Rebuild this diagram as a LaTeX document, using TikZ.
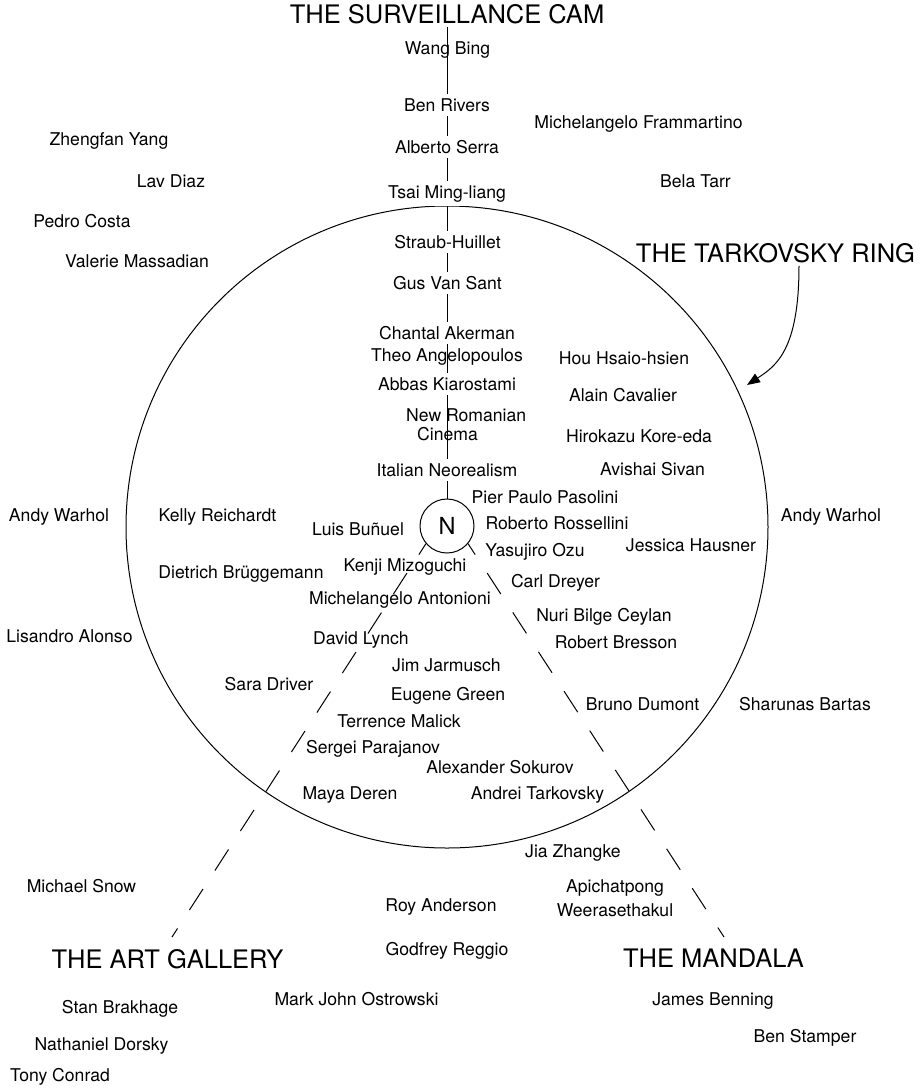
\documentclass[tikz,border=0pt]{standalone}
\usepackage{fontspec}
\setmainfont{TeX Gyre Heros}
\usetikzlibrary{arrows.meta,backgrounds}
\begin{document}
\begin{tikzpicture}[x=1pt,y=1pt,
  lbl/.style={anchor=base,yshift=-6.3pt,inner sep=2pt,font=\fontsize{17.6pt}{21pt}\selectfont},
  wlbl/.style={lbl,fill=white,inner sep=4pt},
  ttl/.style={anchor=base,yshift=-9.2pt,inner sep=3pt,font=\fontsize{25.5pt}{30pt}\selectfont},
  ln/.style={line width=1pt,black},
  dln/.style={ln,dash pattern=on 25pt off 22pt,dash phase=12pt}]
\useasboundingbox (0,0) rectangle (924,-1088);
% ring and centre
\node[circle,draw,line width=1pt,minimum size=642pt,inner sep=0pt] (ring) at (447,-527) {};
\node[circle,draw,line width=1pt,fill=white,minimum size=54pt,inner sep=0pt,font=\fontsize{23.5pt}{28pt}\selectfont] (N) at (447,-526) {N};
% titles
\node[ttl] (cam) at (447,-14) {THE SURVEILLANCE CAM};
\node[ttl] (tark) at (775.5,-253) {THE TARKOVSKY RING};
\node[ttl] (artgallery) at (167.5,-959) {THE ART GALLERY};
\node[ttl] (mandala) at (713.5,-958) {THE MANDALA};
% vertical axis labels
\node[lbl] (wang) at (447.5,-48) {Wang Bing};
\node[wlbl] (benrivers) at (447,-105) {Ben Rivers};
\node[wlbl] (serra) at (447,-147) {Alberto Serra};
\node[wlbl] (tsai) at (447,-192) {Tsai Ming-liang};
\node[wlbl] (straub) at (447.5,-242) {Straub-Huillet};
\node[wlbl] (gus) at (447.5,-283) {Gus Van Sant};
\node[wlbl] (chantal) at (447,-333) {Chantal Akerman};
\node[lbl] (theo) at (447,-355) {Theo Angelopoulos};
\node[wlbl] (abbas) at (447,-384) {Abbas Kiarostami};
\node[anchor=north west,inner sep=0pt,align=left,font=\fontsize{17.6pt}{19pt}\selectfont] (newrom) at (406,-408.7) {New Romanian\\\hspace*{11pt}Cinema};
\node[wlbl] (italian) at (447,-470) {Italian Neorealism};
% other labels
\node[lbl] (frammartino) at (638.5,-122) {Michelangelo Frammartino};
\node[lbl] (zhengfan) at (109,-139) {Zhengfan Yang};
\node[lbl] (lavdiaz) at (171,-181) {Lav Diaz};
\node[lbl] (belatarr) at (695.5,-181) {Bela Tarr};
\node[lbl] (pedro) at (82,-221) {Pedro Costa};
\node[lbl] (valerie) at (137,-261) {Valerie Massadian};
\node[lbl] (hou) at (624,-358) {Hou Hsaio-hsien};
\node[lbl] (cavalier) at (623,-395) {Alain Cavalier};
\node[lbl] (hirokazu) at (639,-436) {Hirokazu Kore-eda};
\node[lbl] (avishai) at (652.5,-469) {Avishai Sivan};
\node[lbl] (pasolini) at (545,-497) {Pier Paulo Pasolini};
\node[lbl] (warholL) at (59,-515) {Andy Warhol};
\node[lbl] (kelly) at (217.5,-515) {Kelly Reichardt};
\node[lbl] (warholR) at (831,-515) {Andy Warhol};
\node[lbl] (rossellini) at (557,-523) {Roberto Rossellini};
\node[lbl] (bunuel) at (358,-529) {Luis Buñuel};
\node[lbl] (hausner) at (691,-545) {Jessica Hausner};
\node[lbl] (ozu) at (535,-550) {Yasujiro Ozu};
\node[lbl] (kenji) at (405,-565) {Kenji Mizoguchi};
\node[lbl] (dietrich) at (241,-572) {Dietrich Brüggemann};
\node[lbl] (dreyer) at (555.5,-581) {Carl Dreyer};
\node[lbl] (antonioni) at (400,-598) {Michelangelo Antonioni};
\node[lbl] (nuri) at (604,-615) {Nuri Bilge Ceylan};
\node[lbl] (lisandro) at (69.5,-636) {Lisandro Alonso};
\node[lbl] (lynch) at (361,-638) {David Lynch};
\node[lbl] (bresson) at (616,-642) {Robert Bresson};
\node[lbl] (jarmusch) at (446.5,-665) {Jim Jarmusch};
\node[lbl] (saradriver) at (269,-684) {Sara Driver};
\node[lbl] (eugene) at (448,-694) {Eugene Green};
\node[lbl] (dumont) at (642.5,-704) {Bruno Dumont};
\node[lbl] (bartas) at (805,-704) {Sharunas Bartas};
\node[lbl] (malick) at (399,-721) {Terrence Malick};
\node[lbl] (parajanov) at (373,-747) {Sergei Parajanov};
\node[lbl] (sokurov) at (500,-767) {Alexander Sokurov};
\node[lbl] (deren) at (350,-793) {Maya Deren};
\node[lbl] (tarkovsky) at (537.5,-793) {Andrei Tarkovsky};
\node[lbl] (jia) at (573,-851) {Jia Zhangke};
\node[lbl] (snow) at (81.5,-886) {Michael Snow};
\node[anchor=north,inner sep=0pt,align=center,font=\fontsize{17.6pt}{24pt}\selectfont] (apichat) at (615,-879.7) {Apichatpong\\Weerasethakul};
\node[lbl] (royanderson) at (441,-905) {Roy Anderson};
\node[lbl] (reggio) at (447,-949) {Godfrey Reggio};
\node[lbl] (ostrowski) at (356.5,-999) {Mark John Ostrowski};
\node[lbl] (benning) at (713,-999) {James Benning};
\node[lbl] (brakhage) at (120,-1007) {Stan Brakhage};
\node[lbl] (stamper) at (805,-1036) {Ben Stamper};
\node[lbl] (dorsky) at (101.5,-1044) {Nathaniel Dorsky};
\node[lbl] (conrad) at (60,-1075) {Tony Conrad};
% free ends
\coordinate (agend) at (172,-937);
\coordinate (mdend) at (724,-937);
\coordinate (arrowtip) at (747,-385);
% connectors
\begin{scope}[on background layer]
\draw[ln] (cam) -- (N);
\draw[dln] (N.220) -- (agend);
\draw[dln] (N.-40) -- (mdend);
\end{scope}
\draw[ln,-{Triangle[length=13pt,width=10pt]}] ([xshift=23.5pt]tark.south) .. controls (799,-350) and (776,-366) .. (arrowtip);
\end{tikzpicture}
\end{document}
